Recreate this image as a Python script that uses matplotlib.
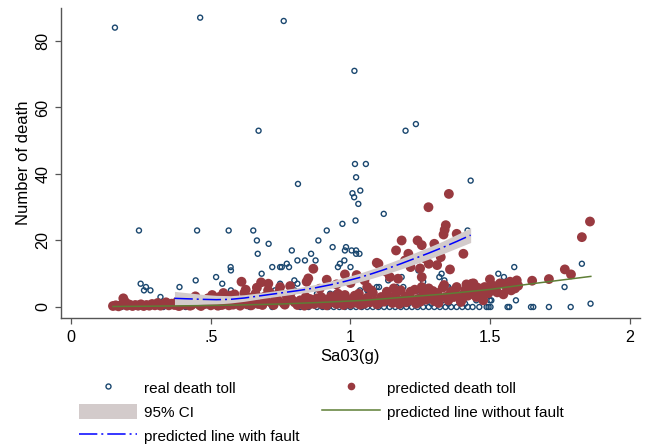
import matplotlib
matplotlib.use("Agg")
import matplotlib.pyplot as plt
from matplotlib.lines import Line2D
from matplotlib.patches import Patch

plt.rcParams['font.family'] = ['Liberation Sans', 'DejaVu Sans']

# ---------------- data ----------------
real_x = [0.157, 0.462, 0.761, 1.014, 0.671, 1.197, 1.234, 1.016, 1.055, 1.020,
          1.430, 0.812, 1.007, 1.035, 1.013, 1.028, 1.119, 1.018, 0.971, 0.915,
          0.243, 0.451, 0.564, 0.652, 0.885, 0.665, 0.707, 0.936, 0.984, 0.790,
          0.980, 1.004, 1.020, 0.668, 1.020, 1.032, 0.859, 0.810, 0.837, 0.875,
          0.978, 0.772, 0.962, 0.754, 0.780, 0.720, 0.748, 0.955, 0.571, 0.572,
          0.682, 0.519, 0.446, 0.541, 0.572, 0.661, 0.748, 0.799, 0.810, 0.730,
          0.388, 0.249, 0.268, 0.261, 0.284, 0.320, 0.946, 1.586, 1.828, 1.529,
          1.549, 1.766, 1.504, 1.592, 1.859, 1.102, 1.243, 1.326, 1.318, 1.336,
          1.135, 1.064, 1.165, 1.344, 1.499, 1.000, 0.800, 0.620, 1.034, 1.060,
          1.094, 0.927, 0.956, 1.419, 1.183, 1.189, 1.160, 1.232, 1.260, 1.350,
          # zero deaths
          0.18, 0.24, 0.33, 0.41, 0.53, 0.64, 0.72, 0.82, 0.85, 0.88,
          0.90, 0.92, 0.94, 0.96, 0.98, 1.00, 1.02, 1.04, 1.06, 1.08,
          1.10, 1.12, 1.14, 1.16, 1.18, 1.20, 1.22, 1.24, 1.26, 1.28,
          1.30, 1.32, 1.34, 1.36, 1.38, 1.40, 1.42, 1.437, 1.461, 1.487,
          1.494, 1.501, 1.562, 1.568, 1.646, 1.654, 1.710, 1.788,
          # small counts
          0.86, 0.93, 0.99, 1.05, 1.11, 1.17, 1.23, 1.29, 1.35, 1.41,
          0.89, 0.97, 1.03, 1.09, 1.15, 1.21, 1.27, 1.33, 1.39, 1.45,
          0.84, 1.01, 1.13, 1.19, 1.31, 1.37, 0.88, 1.08, 1.25, 1.40]
real_y = [84, 87, 86, 71, 53, 53, 55, 43, 43, 39,
          38, 37, 34.2, 35, 33, 31, 28, 26, 25, 23,
          23, 23, 23, 23, 20, 20, 19, 18, 18, 17,
          17, 17, 17, 16, 16, 16, 16, 14, 14, 14,
          14, 13, 13, 12, 12, 12, 12, 12, 12, 11,
          10, 9, 8, 7, 5, 6, 7, 8, 7, 5,
          6, 7, 6, 5, 5, 3, 4, 12, 13, 10,
          9, 6, 2, 2, 1, 6, 11, 10, 9, 8,
          8, 5, 6, 6, 2, 12, 5, 5, 5, 5,
          6, 4, 4, 23, 9, 6, 5, 5, 7.6, 6,
          0, 0, 0, 0, 0, 0, 0, 0, 0, 0,
          0, 0, 0, 0, 0, 0, 0, 0, 0, 0,
          0, 0, 0, 0, 0, 0, 0, 0, 0, 0,
          0, 0, 0, 0, 0, 0, 0, 0, 0, 0,
          0, 0, 0, 0, 0, 0, 0, 0,
          1, 1, 1, 1, 1, 1, 1, 1, 1, 1,
          2, 2, 2, 2, 2, 2, 2, 2, 2, 2,
          3, 3, 3, 3, 3, 3, 4, 4, 4, 4]

pred_x = [0.150, 0.160, 0.170, 0.180, 0.187, 0.195, 0.200, 0.210, 0.220, 0.230,
          0.240, 0.250, 0.260, 0.270, 0.280, 0.290, 0.300, 0.310, 0.320, 0.330,
          0.340, 0.350, 0.360, 0.370, 0.380, 0.390, 0.400, 0.410, 0.420, 0.430,
          0.440, 0.450, 0.460, 0.470, 0.480, 0.490, 0.500, 0.510, 0.520, 0.530,
          0.540, 0.550, 0.560, 0.570, 0.580, 0.590, 0.600, 0.610, 0.620, 0.630,
          0.640, 0.650, 0.660, 0.670, 0.680, 0.690, 0.700, 0.706, 0.710, 0.720,
          0.730, 0.740, 0.748, 0.760, 0.770, 0.784, 0.790, 0.800,
          0.81, 0.82, 0.83, 0.84, 0.85, 0.86, 0.87, 0.88, 0.89, 0.90,
          0.91, 0.92, 0.93, 0.94, 0.95, 0.96, 0.97, 0.98, 0.99, 1.00,
          1.01, 1.02, 1.03, 1.04, 1.05, 1.06, 1.07, 1.08, 1.09, 1.10,
          1.11, 1.12, 1.13, 1.14, 1.15, 1.16, 1.17, 1.18, 1.19, 1.20,
          1.21, 1.22, 1.23, 1.24, 1.25, 1.26, 1.27, 1.28, 1.29, 1.30,
          1.31, 1.32, 1.33, 1.34, 1.35, 1.36, 1.37, 1.38, 1.39, 1.40,
          1.41, 1.42, 1.43, 1.44, 1.45, 1.46, 1.47, 1.48, 1.493, 1.499,
          1.51, 1.52, 1.535, 1.547, 1.56, 1.571, 1.583, 1.589, 1.60,
          1.65, 1.71, 1.767, 1.789, 1.828, 1.857,
          0.843, 0.849, 0.867, 0.915, 0.98, 1.022, 1.094, 1.10, 1.141, 1.163,
          1.183, 1.195, 1.207, 1.249, 1.255, 1.255, 1.267, 1.323, 1.333, 1.337,
          1.341, 1.352, 1.279, 1.356, 1.404, 1.434, 1.215, 1.24, 1.30, 1.38,
          1.06, 1.13, 0.95, 1.00, 1.05, 0.89, 1.17, 1.28, 1.31,
          0.815, 0.835, 0.855, 0.875, 0.895, 0.915, 0.935, 0.955, 0.975, 0.995,
          1.015, 1.035, 1.055, 1.075, 1.095, 1.115, 1.135, 1.155, 1.175, 1.195,
          1.215, 1.235, 1.255, 1.275, 1.295, 1.315, 1.335, 1.355, 1.375, 1.395,
          1.415, 1.435, 1.455, 1.475, 1.505, 1.525, 1.555, 1.575, 1.595,
          0.385, 0.405, 0.425, 0.445, 0.465, 0.485, 0.505, 0.525, 0.545, 0.565,
          0.585, 0.605, 0.625, 0.645, 0.665, 0.685, 0.705, 0.725, 0.745, 0.765,
          0.785]
pred_y = [0.3, 0.5, 0.2, 0.6, 2.6, 1.4, 0.4, 0.7, 0.3, 0.6,
          0.4, 0.8, 0.3, 0.6, 0.4, 0.9, 0.5, 1.2, 0.4, 0.8,
          1.4, 0.5, 1.0, 0.6, 1.6, 0.4, 1.2, 0.7, 1.8, 0.5,
          1.1, 2.2, 0.6, 1.5, 0.9, 2.6, 0.5, 1.8, 1.0, 3.0,
          0.6, 2.0, 1.2, 3.4, 0.7, 2.4, 1.4, 7.6, 4.2, 0.8,
          2.8, 1.6, 4.0, 0.9, 7.4, 3.0, 1.8, 7.0, 4.4, 1.0,
          3.2, 2.0, 6.0, 1.2, 3.6, 6.3, 2.2, 1.4,
          0.6, 2.0, 1.0, 3.0, 0.7, 1.8, 0.9, 2.6, 1.2, 0.8,
          2.2, 1.0, 3.2, 1.4, 0.9, 2.4, 1.1, 3.6, 1.5, 0.9,
          2.6, 1.3, 4.0, 1.6, 1.0, 2.8, 1.4, 4.2, 1.8, 1.1,
          3.0, 1.6, 4.6, 2.0, 1.2, 3.4, 1.8, 5.0, 2.2, 1.4,
          3.6, 2.0, 5.2, 2.4, 1.6, 4.0, 2.2, 5.6, 2.6, 1.8,
          4.2, 2.6, 5.8, 3.0, 2.0, 4.6, 3.0, 6.0, 3.2, 2.4,
          5.0, 3.4, 6.4, 7.1, 3.0, 5.2, 4.0, 6.0, 4.1, 8.3,
          5.0, 6.2, 7.1, 3.8, 5.6, 7.6, 7.1, 5.6, 6.4,
          7.9, 8.4, 11.3, 9.8, 21, 25.7,
          7.6, 8.6, 11.5, 8.2, 9.8, 9.6, 13.3, 13, 9, 17,
          20, 14, 16, 11.6, 18.6, 9, 14.6, 15, 21.8, 23.2,
          24.6, 34, 30, 11.3, 16, 7, 12, 20, 19, 22,
          6, 10.5, 6.8, 7.2, 8, 5.5, 8.5, 13, 12.6,
          1.5, 0.4, 2.4, 1.4, 3.0, 0.5, 1.8, 4.0, 0.6, 2.0,
          3.4, 0.7, 2.2, 5.0, 0.8, 2.4, 3.2, 5.6, 0.9, 3.0,
          4.6, 1.0, 6.0, 3.4, 4.8, 1.2, 6.6, 3.6, 5.2, 1.5,
          6.8, 4.0, 5.8, 2.0, 6.6, 4.4, 7.0, 5.0, 8.0,
          0.3, 2.4, 0.4, 3.2, 0.3, 1.6, 3.6, 0.4, 4.2, 0.5,
          3.8, 0.4, 5.2, 0.5, 5.8, 0.6, 5.0, 0.6, 4.6, 0.7,
          4.0]

fit_x = [0.37, 0.42, 0.47, 0.52, 0.57, 0.62, 0.68, 0.74, 0.81, 0.87, 0.93,
         0.98, 1.03, 1.08, 1.13, 1.18, 1.23, 1.28, 1.33, 1.38, 1.43]
fit_y = [2.6, 2.45, 2.3, 2.2, 2.3, 2.7, 3.4, 4.1, 4.9, 5.7, 6.7,
         7.7, 8.8, 10.1, 11.5, 13.0, 14.6, 16.2, 17.9, 19.7, 21.6]
ci_lo = [0.5, 0.65, 0.8, 0.9, 1.2, 1.7, 2.5, 3.2, 4.0, 4.7, 5.6,
         6.5, 7.5, 8.7, 10.0, 11.4, 12.9, 14.4, 16.0, 17.7, 19.4]
ci_hi = [4.7, 4.25, 3.8, 3.5, 3.4, 3.7, 4.3, 5.0, 5.8, 6.7, 7.8,
         8.9, 10.1, 11.5, 13.0, 14.6, 16.3, 18.0, 19.8, 21.8, 23.8]

nofault_x = [0.15, 0.30, 0.45, 0.60, 0.75, 0.90, 1.05, 1.20, 1.35, 1.50, 1.65, 1.86]
nofault_y = [0.15, 0.25, 0.4, 0.6, 0.9, 1.4, 2.0, 3.0, 4.0, 5.3, 7.0, 9.2]

xticks = [0, 0.5, 1, 1.5, 2]
xticklabels = ['0', '.5', '1', '1.5', '2']
yticks = [0, 20, 40, 60, 80]

labels = ['real death toll', 'predicted death toll', '95% CI',
          'predicted line without fault', 'predicted line with fault']

# ---------------- styles ----------------
NAVY = '#1a476f'
MAROON = '#993a40'
CIGRAY = '#d3cbcb'
GREEN = '#5e7e36'
BLUE = '#0000ff'
AXC = '#555555'

W, H = 646, 447
fig = plt.figure(figsize=(W / 100, H / 100), dpi=100)
fig.patch.set_facecolor('white')
L, R, T, B = 61, 640, 8, 318
ax = fig.add_axes([L / W, 1 - B / H, (R - L) / W, (B - T) / H])

ax.scatter(real_x, real_y, s=13, facecolors='none', edgecolors=NAVY,
           linewidths=1.0, zorder=2)
ax.scatter(pred_x, pred_y, s=50, color=MAROON, edgecolors='none', zorder=3)
ax.fill_between(fit_x, ci_lo, ci_hi, color=CIGRAY, lw=0, zorder=4)
ax.plot(nofault_x, nofault_y, color=GREEN, lw=1.1, zorder=5)
ax.plot(fit_x, fit_y, color=BLUE, lw=1.1, linestyle=(0, (12, 2.6, 1.3, 2.6)),
        zorder=6)

ax.set_xlim(-0.036, 2.036)
ax.set_ylim(-3.31, 89.9)
ax.set_xticks(xticks)
ax.set_xticklabels(xticklabels)
ax.set_yticks(yticks)
for s in ['top', 'right']:
    ax.spines[s].set_visible(False)
for s in ['left', 'bottom']:
    ax.spines[s].set_color(AXC)
    ax.spines[s].set_linewidth(1.0)
ax.tick_params(axis='both', direction='out', length=4.3, width=0.9,
               color=AXC, labelsize=11.6, labelcolor='black')
ax.tick_params(axis='x', pad=4.5)
ax.tick_params(axis='y', pad=3.5)
for lab in ax.get_yticklabels():
    lab.set_rotation(90)
    lab.set_va('center')
ax.set_xlabel('Sa03(g)', fontsize=12, labelpad=3)
ax.set_ylabel('Number of death', fontsize=12, labelpad=3)

h_real = Line2D([], [], ls='none', marker='o', ms=3.6, mfc='none', mec=NAVY, mew=1.0)
h_pred = Line2D([], [], ls='none', marker='o', ms=5.5, mfc=MAROON, mec='none')
h_ci = Patch(facecolor=CIGRAY, edgecolor='none')
h_nof = Line2D([], [], color=GREEN, lw=1.1)
h_fault = Line2D([], [], color=BLUE, lw=1.1, ls=(0, (12, 2.6, 1.3, 2.6)))

handles = [h_real, h_ci, h_fault, h_pred, h_nof]
labs = [labels[0], labels[2], labels[4], labels[1], labels[3]]
fig.legend(handles, labs, loc='upper left', bbox_to_anchor=(79 / W, 1 - 380 / H),
           ncol=2, frameon=False, borderpad=0, borderaxespad=0,
           handlelength=3.8, handleheight=1.1, handletextpad=0.45,
           columnspacing=1.5, labelspacing=0.56, fontsize=11)

fig.savefig('out.png', dpi=100, facecolor='white')
